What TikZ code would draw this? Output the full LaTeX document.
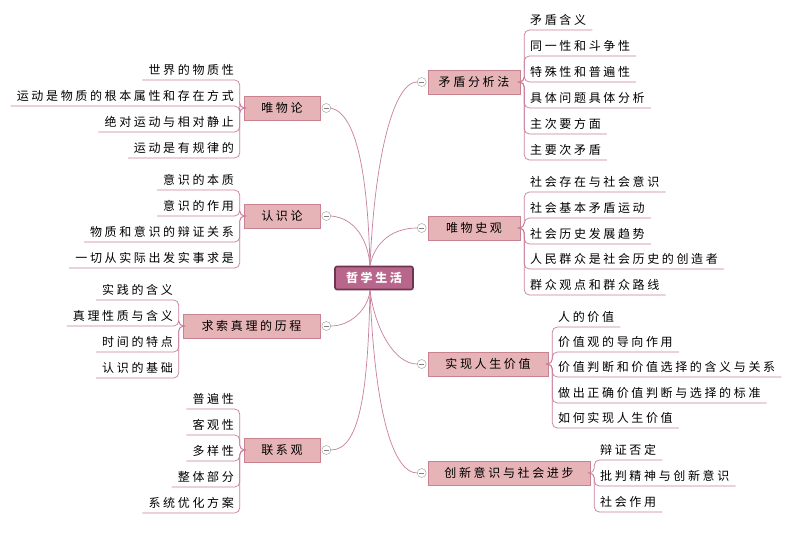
\documentclass[tikz,border=0pt]{standalone}
\usepackage{fontspec}
\setmainfont[LetterSpace=22]{Noto Sans CJK SC}
\begin{document}
\begin{tikzpicture}[x=1pt,y=-1pt]
\tikzstyle{root}=[rectangle,rounded corners=2pt,fill=rootPink,draw=rootLine,line width=1.6pt,text=white,font=\fontsize{12}{14}\selectfont\bfseries,minimum width=78pt,minimum height=23pt]
\tikzstyle{topic}=[rectangle,fill=topicPink,draw=topicLine,line width=0.6pt,font=\fontsize{12}{14}\selectfont,minimum height=24pt,inner xsep=6pt]
\tikzstyle{leafL}=[anchor=south east,inner xsep=6pt,inner ysep=4pt,font=\fontsize{12}{14}\selectfont]
\tikzstyle{leafR}=[anchor=south west,inner xsep=6pt,inner ysep=4pt,font=\fontsize{12}{14}\selectfont]
\tikzstyle{link}=[draw=linkPink,line width=0.7pt,rounded corners=5pt]
\tikzstyle{fold}=[circle,draw=gray!80,fill=white,minimum size=9pt,inner sep=0pt,
  path picture={\draw[gray] ([xshift=-2.6pt]path picture bounding box.center) -- ([xshift=2.6pt]path picture bounding box.center);}]
\definecolor{rootPink}{HTML}{B8668C}
\definecolor{rootLine}{HTML}{6E3450}
\definecolor{topicPink}{HTML}{E6B4B7}
\definecolor{topicLine}{HTML}{C98290}
\definecolor{linkPink}{HTML}{C97E9E}
\useasboundingbox[fill=white] (0,0) rectangle (792,548);

%center.
\node[root] (life) at (374,278) {哲学生活};

%left topics.
\node[topic,minimum width=76pt] (matter) at (282,108) {唯物论};
\node[topic,minimum width=76pt] (know) at (282,216) {认识论};
\node[topic,minimum width=137pt] (truth) at (251.5,326) {求索真理的历程};
\node[topic,minimum width=76pt] (link) at (282,450) {联系观};

%right topics.
\node[topic,minimum width=92pt] (contra) at (474,82) {矛盾分析法};
\node[topic,minimum width=92pt] (history) at (474,228) {唯物史观};
\node[topic,minimum width=120pt] (value) at (488,364) {实现人生价值};
\node[topic,minimum width=162pt] (innov) at (509,473) {创新意识与社会进步};

%fold buttons and curves.
\foreach \t in {matter,know,truth,link}{
  \node[fold] (\t F) at ([xshift=6pt]\t.east) {};
}
\foreach \t in {contra,history,value,innov}{
  \node[fold] (\t F) at ([xshift=-6pt]\t.west) {};
}
\draw[link] (life.north) ++(-4,0) .. controls (368,190) and (360,115) .. (matterF.east);
\draw[link] (life.north) ++(-4,0) .. controls (368,240) and (355,218) .. (knowF.east);
\draw[link] (life.south) ++(-4,0) .. controls (368,310) and (350,326) .. (truthF.east);
\draw[link] (life.south) ++(-4,0) .. controls (368,390) and (360,450) .. (linkF.east);
\draw[link] (life.north) ++(-4,0) .. controls (375,150) and (395,82) .. (contraF.west);
\draw[link] (life.north) ++(-4,0) .. controls (375,240) and (395,228) .. (historyF.west);
\draw[link] (life.south) ++(-4,0) .. controls (375,330) and (395,364) .. (valueF.west);
\draw[link] (life.south) ++(-4,0) .. controls (375,420) and (395,473) .. (innovF.west);

%left leaves.
\foreach \t/\y [count=\i] in {世界的物质性/80,运动是物质的根本属性和存在方式/106,绝对运动与相对静止/132,运动是有规律的/158}{
  \node[leafL] (matter\i) at (240,\y) {\t};
  \draw[link] (matter.west) -- ++(-4,0) |- (matter\i.south west);
}
\foreach \t/\y [count=\i] in {意识的本质/190,意识的作用/216,物质和意识的辩证关系/242,一切从实际出发实事求是/268}{
  \node[leafL] (know\i) at (240,\y) {\t};
  \draw[link] (know.west) -- ++(-4,0) |- (know\i.south west);
}
\foreach \t/\y [count=\i] in {实践的含义/300,真理性质与含义/326,时间的特点/352,认识的基础/378}{
  \node[leafL] (truth\i) at (179,\y) {\t};
  \draw[link] (truth.west) -- ++(-4,0) |- (truth\i.south west);
}
\foreach \t/\y [count=\i] in {普遍性/409,客观性/435,多样性/461,整体部分/487,系统优化方案/513}{
  \node[leafL] (link\i) at (240,\y) {\t};
  \draw[link] (link.west) -- ++(-4,0) |- (link\i.south west);
}

%right leaves.
\foreach \t/\y [count=\i] in {矛盾含义/30,同一性和斗争性/56,特殊性和普遍性/82,具体问题具体分析/108,主次要方面/134,主要次矛盾/160}{
  \node[leafR] (contra\i) at (524,\y) {\t};
  \draw[link] (contra.east) -- ++(4,0) |- (contra\i.south east);
}
\foreach \t/\y [count=\i] in {社会存在与社会意识/192,社会基本矛盾运动/218,社会历史发展趋势/244,人民群众是社会历史的创造者/269,群众观点和群众路线/295}{
  \node[leafR] (history\i) at (524,\y) {\t};
  \draw[link] (history.east) -- ++(4,0) |- (history\i.south east);
}
\foreach \t/\y [count=\i] in {人的价值/327,价值观的导向作用/352,价值判断和价值选择的含义与关系/377,做出正确价值判断与选择的标准/403,如何实现人生价值/428}{
  \node[leafR] (value\i) at (552,\y) {\t};
  \draw[link] (value.east) -- ++(4,0) |- (value\i.south east);
}
\foreach \t/\y [count=\i] in {辩证否定/460,批判精神与创新意识/486,社会作用/512}{
  \node[leafR] (innov\i) at (594,\y) {\t};
  \draw[link] (innov.east) -- ++(4,0) |- (innov\i.south east);
}
\end{tikzpicture}
\end{document}
